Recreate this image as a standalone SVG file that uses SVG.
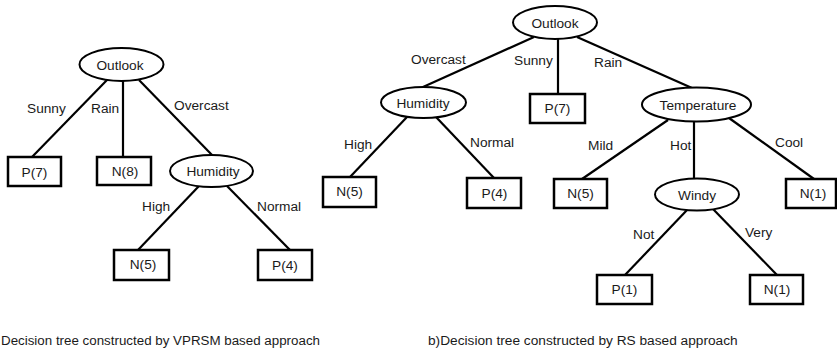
<svg xmlns="http://www.w3.org/2000/svg" width="837" height="350" viewBox="0 0 837 350">
<style>
  .bg { fill: #ffffff; }
  .ell { fill: #ffffff; stroke: #000000; stroke-width: 2; }
  .box { fill: #ffffff; stroke: #000000; stroke-width: 2.5; }
  .edge { stroke: #000000; stroke-width: 2.2; fill: none; }
  text { font-family: "Liberation Sans", Arial, sans-serif; font-size: 13.7px; fill: #1a1a1a; }
  .c { text-anchor: middle; }
</style>
<rect class="bg" x="0" y="0" width="837" height="350"/>

<g id="connectors">
  <!-- left tree -->
  <line class="edge" x1="107" y1="80" x2="32" y2="157"/>
  <line class="edge" x1="123" y1="81" x2="123" y2="157"/>
  <line class="edge" x1="139" y1="80" x2="212" y2="155"/>
  <line class="edge" x1="199" y1="186" x2="138" y2="250"/>
  <line class="edge" x1="227" y1="186" x2="290" y2="250"/>
  <!-- right tree -->
  <line class="edge" x1="534" y1="37" x2="423" y2="87"/>
  <line class="edge" x1="558" y1="39" x2="558" y2="94"/>
  <line class="edge" x1="577" y1="37" x2="692" y2="88"/>
  <line class="edge" x1="407" y1="117" x2="350" y2="177"/>
  <line class="edge" x1="436" y1="117" x2="494" y2="178"/>
  <line class="edge" x1="668" y1="120" x2="582" y2="179"/>
  <line class="edge" x1="694" y1="121" x2="694" y2="179"/>
  <line class="edge" x1="729" y1="118" x2="814" y2="179"/>
  <line class="edge" x1="688" y1="209" x2="625" y2="275"/>
  <line class="edge" x1="713" y1="209" x2="777" y2="275"/>
  <!-- edge labels -->
  <text x="27" y="113">Sunny</text>
  <text x="91" y="113">Rain</text>
  <text x="174" y="110">Overcast</text>
  <text x="142" y="211">High</text>
  <text x="257" y="211">Normal</text>
  <text x="411" y="64">Overcast</text>
  <text x="514" y="65">Sunny</text>
  <text x="594" y="67">Rain</text>
  <text x="344" y="149">High</text>
  <text x="470" y="147">Normal</text>
  <text x="588" y="150">Mild</text>
  <text x="670" y="150">Hot</text>
  <text x="775" y="147">Cool</text>
  <text x="633" y="239">Not</text>
  <text x="745" y="237">Very</text>
</g>

<!-- left tree nodes -->
<g id="a-outlook">
  <ellipse class="ell" cx="121.5" cy="64.5" rx="42" ry="16.5"/>
  <text class="c" x="120" y="69.5">Outlook</text>
</g>
<g id="a-p7">
  <rect class="box" x="8" y="157" width="53" height="29"/>
  <text class="c" x="34.5" y="176.5">P(7)</text>
</g>
<g id="a-n8">
  <rect class="box" x="97" y="157" width="54" height="28"/>
  <text class="c" x="125" y="176">N(8)</text>
</g>
<g id="a-humidity">
  <ellipse class="ell" cx="211.5" cy="171" rx="41.5" ry="16"/>
  <text class="c" x="213" y="175.5">Humidity</text>
</g>
<g id="a-n5">
  <rect class="box" x="114" y="250" width="55" height="30"/>
  <text class="c" x="143" y="269">N(5)</text>
</g>
<g id="a-p4">
  <rect class="box" x="258" y="250" width="54" height="30"/>
  <text class="c" x="285" y="270">P(4)</text>
</g>

<!-- right tree nodes -->
<g id="b-outlook">
  <ellipse class="ell" cx="555" cy="22.5" rx="42" ry="16.5"/>
  <text class="c" x="555" y="28">Outlook</text>
</g>
<g id="b-humidity">
  <ellipse class="ell" cx="423.5" cy="102.5" rx="42.5" ry="15.5"/>
  <text class="c" x="423" y="107.5">Humidity</text>
</g>
<g id="b-p7">
  <rect class="box" x="530" y="94" width="55" height="29"/>
  <text class="c" x="557.5" y="113">P(7)</text>
</g>
<g id="b-temperature">
  <ellipse class="ell" cx="696.5" cy="104.5" rx="54.5" ry="17"/>
  <text class="c" x="698" y="109.5">Temperature</text>
</g>
<g id="b-n5">
  <rect class="box" x="323" y="177" width="53" height="30"/>
  <text class="c" x="349.5" y="196">N(5)</text>
</g>
<g id="b-p4">
  <rect class="box" x="467" y="178" width="54" height="30"/>
  <text class="c" x="494.5" y="197.5">P(4)</text>
</g>
<g id="b-n5b">
  <rect class="box" x="554" y="179" width="53" height="29"/>
  <text class="c" x="580.5" y="198">N(5)</text>
</g>
<g id="b-windy">
  <ellipse class="ell" cx="697" cy="194.5" rx="42" ry="16"/>
  <text class="c" x="697" y="199.5">Windy</text>
</g>
<g id="b-n1">
  <rect class="box" x="786" y="179" width="50" height="29"/>
  <text class="c" x="813" y="198">N(1)</text>
</g>
<g id="b-p1">
  <rect class="box" x="597" y="275" width="55" height="29"/>
  <text class="c" x="624.5" y="294">P(1)</text>
</g>
<g id="b-n1b">
  <rect class="box" x="750" y="275" width="53" height="29"/>
  <text class="c" x="777" y="294">N(1)</text>
</g>

<!-- captions -->
<text x="1" y="345" textLength="319" lengthAdjust="spacingAndGlyphs">Decision tree constructed by VPRSM based approach</text>
<text x="428" y="345">b)Decision tree constructed by RS based approach</text>
</svg>
